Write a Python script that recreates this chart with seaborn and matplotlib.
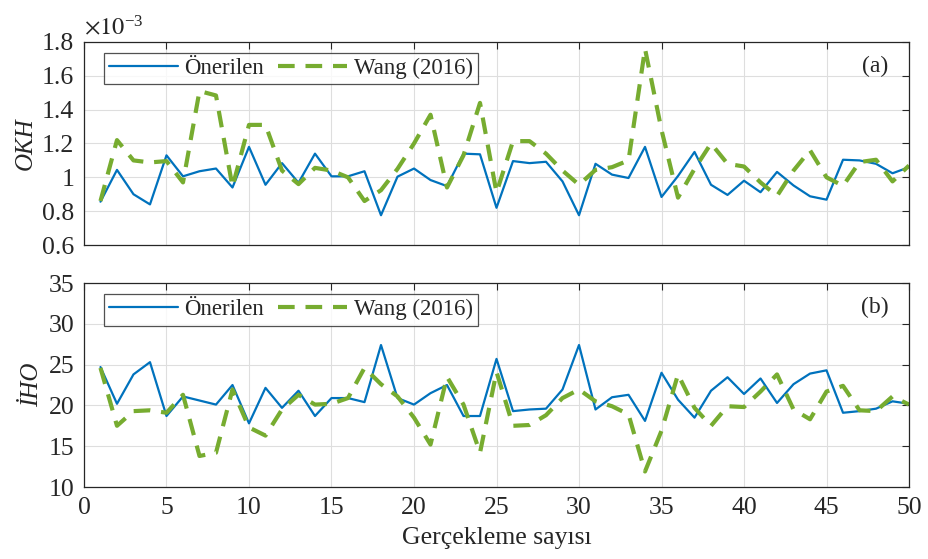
import numpy as np
import pandas as pd
import matplotlib
matplotlib.use("Agg")
import matplotlib.pyplot as plt
import seaborn as sns

x = list(range(1, 51))

# OKH (x 1e-3)
okh_onerilen = [0.856, 1.044, 0.90, 0.84, 1.13, 1.006, 1.036, 1.052, 0.94, 1.18,
                0.956, 1.084, 0.968, 1.14, 1.006, 1.006, 1.036, 0.776, 1.004, 1.052,
                0.984, 0.948, 1.14, 1.136, 0.82, 1.096, 1.084, 1.092, 0.976, 0.776,
                1.08, 1.016, 0.996, 1.18, 0.884, 1.008, 1.15, 0.956, 0.896, 0.98,
                0.912, 1.032, 0.952, 0.888, 0.868, 1.104, 1.10, 1.08, 1.024, 1.06]
okh_wang = [0.86, 1.22, 1.10, 1.088, 1.096, 0.97, 1.51, 1.484, 0.944, 1.31,
            1.31, 1.04, 0.96, 1.056, 1.04, 1.0, 0.86, 0.924, 1.05, 1.2,
            1.37, 0.94, 1.13, 1.44, 0.91, 1.214, 1.214, 1.14, 1.04, 0.956,
            1.044, 1.06, 1.10, 1.76, 1.28, 0.88, 1.05, 1.2, 1.08, 1.064,
            0.97, 0.89, 1.04, 1.16, 1.0, 0.95, 1.09, 1.104, 0.976, 1.07]

# IHO
iho_onerilen = [24.7, 20.2, 23.8, 25.3, 18.7, 21.1, 20.6, 20.1, 22.5, 17.8,
                22.15, 19.7, 21.8, 18.7, 20.9, 20.9, 20.4, 27.4, 20.9, 20.1,
                21.5, 22.5, 18.7, 18.7, 25.7, 19.3, 19.5, 19.6, 21.95, 27.4,
                19.5, 21.0, 21.3, 18.1, 24.0, 20.7, 18.5, 21.8, 23.45, 21.4,
                23.3, 20.3, 22.6, 23.9, 24.3, 19.1, 19.3, 19.6, 20.5, 20.2]
iho_wang = [24.6, 17.5, 19.3, 19.4, 19.1, 21.3, 13.8, 14.2, 21.95, 17.3,
            16.3, 19.5, 21.3, 20.1, 20.2, 20.9, 24.6, 22.6, 21.1, 18.5,
            15.2, 23.5, 20.1, 14.2, 24.1, 17.5, 17.6, 18.8, 20.9, 21.95,
            20.5, 19.9, 18.9, 11.9, 16.9, 23.8, 19.7, 17.5, 19.9, 19.8,
            21.7, 23.8, 19.5, 18.3, 21.7, 22.4, 19.4, 19.3, 21.1, 20.1]

labels = ["Önerilen", "Wang (2016)"]
blue = "#0072BD"
green = "#77AC30"

sns.set_style("white")
plt.rcParams['font.family'] = ['Liberation Serif', 'DejaVu Serif']
plt.rcParams['mathtext.fontset'] = 'stix'

fig = plt.figure(figsize=(9.29, 5.59), dpi=100)
ax1 = fig.add_axes([0.0904, 0.5617, 0.8881, 0.3632])
ax2 = fig.add_axes([0.0904, 0.1288, 0.8881, 0.3649])

def draw(ax, y1, y2, ylim, yticks, yticklabels, ylabel, tag):
    df = pd.DataFrame({"x": x, "a": y1, "b": y2})
    sns.lineplot(data=df, x="x", y="a", ax=ax, color=blue, lw=1.6, label=labels[0])
    sns.lineplot(data=df, x="x", y="b", ax=ax, color=green, lw=3.0, label=labels[1])
    ax.lines[1].set_dashes((4, 2.6))
    ax.set_xlim(0, 50)
    ax.set_ylim(*ylim)
    ax.set_xticks(range(0, 51, 5))
    ax.set_yticks(yticks)
    ax.set_yticklabels(yticklabels)
    ax.grid(True, color="#dedede", lw=0.8)
    ax.tick_params(direction="in", top=True, right=True, length=5, width=0.8,
                   labelsize=18.5, colors="#262626", labelcolor="#262626", pad=7)
    for s in ax.spines.values():
        s.set_color("#262626")
        s.set_linewidth(0.9)
    ax.set_ylabel(ylabel, fontsize=18, style="italic", labelpad=4, color="#262626")
    ax.set_xlabel("")
    leg = ax.legend(loc="upper left", ncol=2, fontsize=16.5, frameon=True, fancybox=False,
                    edgecolor="#262626", handlelength=3.0, borderaxespad=0.0,
                    bbox_to_anchor=(0.024, 0.945), columnspacing=0.6, handletextpad=0.3,
                    borderpad=0.22)
    leg.get_frame().set_linewidth(0.9)
    ax.text(0.975, 0.88, tag, transform=ax.transAxes, ha="right", va="center",
            fontsize=17, color="#262626")

draw(ax1, okh_onerilen, okh_wang, (0.6, 1.8), [0.6, 0.8, 1.0, 1.2, 1.4, 1.6, 1.8],
     ["0.6", "0.8", "1", "1.2", "1.4", "1.6", "1.8"], "OKH", "(a)")
ax1.set_xticklabels([])
ax1.text(0.0, 1.01, r"$\times10^{\mathregular{-3}}$", transform=ax1.transAxes,
         ha="left", va="bottom", fontsize=17.5, color="#262626")

draw(ax2, iho_onerilen, iho_wang, (10, 35), [10, 15, 20, 25, 30, 35],
     ["10", "15", "20", "25", "30", "35"], "İHO", "(b)")
ax2.set_xlabel("Gerçekleme sayısı", fontsize=18.5, color="#262626", labelpad=6)

fig.savefig("out.png", dpi=100)
